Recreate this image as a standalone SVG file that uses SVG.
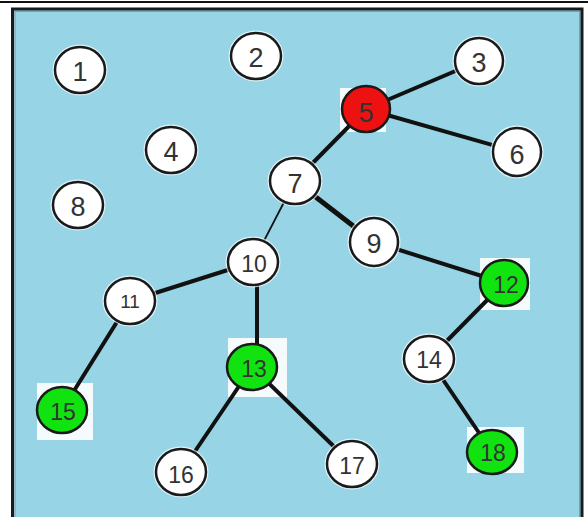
<svg xmlns="http://www.w3.org/2000/svg" width="588" height="517" viewBox="0 0 588 517">
<style>
.edge{stroke:#111;stroke-width:4;stroke-linecap:round;fill:none}
.thin{stroke-width:1.8}
.halo{fill:none;stroke:#fff;stroke-width:5;opacity:0.7}
.node{stroke:#1a1a1a;stroke-width:2.5}
.w{fill:#fff}
.g{fill:#11e311}
.r{fill:#ee1111}
.patch{fill:#fff;opacity:0.9}
text{font-family:"Liberation Sans",Arial,sans-serif;fill:#333;text-anchor:middle}
.s{font-size:27px}
.d{font-size:23px}
.dd{font-size:19px}
</style>
<rect x="0" y="0" width="588" height="517" fill="#fff"/>
<line x1="0" y1="2" x2="588" y2="2" stroke="#111" stroke-width="2"/>
<rect x="12.5" y="9" width="569.5" height="520" fill="#97d4e6" stroke="#1a1a1a" stroke-width="3"/>
<rect x="15" y="11.5" width="564.5" height="515" fill="none" stroke="#8a9aa0" stroke-width="1"/>

<g id="patches">
<rect class="patch" x="228" y="338" width="59" height="59"/>
<rect class="patch" x="37" y="383" width="56" height="57"/>
<rect class="patch" x="467" y="427" width="57" height="46"/>
<rect class="patch" x="480" y="258" width="50" height="52"/>
<rect class="patch" x="340" y="88" width="46" height="44"/>
</g>

<g id="connectors">
<line class="edge" x1="366" y1="109" x2="479" y2="61"/>
<line class="edge" x1="366" y1="109" x2="517" y2="152"/>
<line class="edge" x1="366" y1="109" x2="295" y2="181"/>
<line class="edge thin" x1="295" y1="181" x2="253" y2="262"/>
<line class="edge" x1="295" y1="181" x2="374" y2="242" style="stroke-width:5"/>
<line class="edge" x1="374" y1="242" x2="504" y2="283"/>
<line class="edge" x1="253" y1="262" x2="130" y2="301"/>
<line class="edge" x1="257" y1="262" x2="257" y2="367"/>
<line class="edge" x1="130" y1="301" x2="62" y2="410"/>
<line class="edge" x1="252" y1="367" x2="181" y2="472"/>
<line class="edge" x1="252" y1="367" x2="352" y2="464"/>
<line class="edge" x1="504" y1="283" x2="429" y2="359"/>
<line class="edge" x1="429" y1="359" x2="492" y2="452"/>
</g>

<g id="n1"><ellipse class="halo" cx="80" cy="70" rx="25" ry="23"/><ellipse class="node w" cx="80" cy="70" rx="25" ry="23"/><text class="s" x="80" y="81">1</text></g>
<g id="n2"><ellipse class="halo" cx="256" cy="56" rx="25" ry="23"/><ellipse class="node w" cx="256" cy="56" rx="25" ry="23"/><text class="s" x="256" y="67">2</text></g>
<g id="n3"><ellipse class="halo" cx="479" cy="61" rx="24" ry="23"/><ellipse class="node w" cx="479" cy="61" rx="24" ry="23"/><text class="s" x="479" y="72">3</text></g>
<g id="n4"><ellipse class="halo" cx="171" cy="150" rx="25" ry="23"/><ellipse class="node w" cx="171" cy="150" rx="25" ry="23"/><text class="s" x="171" y="161">4</text></g>
<g id="n5"><ellipse class="node r" cx="366" cy="109" rx="24" ry="23"/><text class="s" x="366" y="122">5</text></g>
<g id="n6"><ellipse class="halo" cx="517" cy="152" rx="24" ry="24"/><ellipse class="node w" cx="517" cy="152" rx="24" ry="24"/><text class="s" x="517" y="164">6</text></g>
<g id="n7"><ellipse class="halo" cx="295" cy="181" rx="25" ry="23"/><ellipse class="node w" cx="295" cy="181" rx="25" ry="23"/><text class="s" x="295" y="193">7</text></g>
<g id="n8"><ellipse class="halo" cx="78" cy="205" rx="25" ry="23"/><ellipse class="node w" cx="78" cy="205" rx="25" ry="23"/><text class="s" x="78" y="216">8</text></g>
<g id="n9"><ellipse class="halo" cx="374" cy="242" rx="24" ry="24"/><ellipse class="node w" cx="374" cy="242" rx="24" ry="24"/><text class="s" x="374" y="253">9</text></g>
<g id="n10"><ellipse class="halo" cx="253" cy="262" rx="25" ry="23"/><ellipse class="node w" cx="253" cy="262" rx="25" ry="23"/><text class="d" x="254" y="272">10</text></g>
<g id="n11"><ellipse class="halo" cx="130" cy="301" rx="25" ry="23"/><ellipse class="node w" cx="130" cy="301" rx="25" ry="23"/><text class="dd" x="130" y="308">11</text></g>
<g id="n12"><ellipse class="node g" cx="504" cy="283" rx="24" ry="23"/><text class="d" x="506" y="293">12</text></g>
<g id="n13"><ellipse class="node g" cx="252" cy="367" rx="25" ry="23"/><text class="d" x="254" y="377">13</text></g>
<g id="n14"><ellipse class="halo" cx="429" cy="359" rx="25" ry="23"/><ellipse class="node w" cx="429" cy="359" rx="25" ry="23"/><text class="d" x="429" y="368">14</text></g>
<g id="n15"><ellipse class="node g" cx="62" cy="410" rx="25" ry="23"/><text class="d" x="63" y="420">15</text></g>
<g id="n16"><ellipse class="halo" cx="181" cy="472" rx="25" ry="23"/><ellipse class="node w" cx="181" cy="472" rx="25" ry="23"/><text class="d" x="181" y="483">16</text></g>
<g id="n17"><ellipse class="halo" cx="352" cy="464" rx="25" ry="23"/><ellipse class="node w" cx="352" cy="464" rx="25" ry="23"/><text class="d" x="352" y="474">17</text></g>
<g id="n18"><ellipse class="node g" cx="492" cy="452" rx="25" ry="22"/><text class="d" x="493" y="461">18</text></g>
</svg>
